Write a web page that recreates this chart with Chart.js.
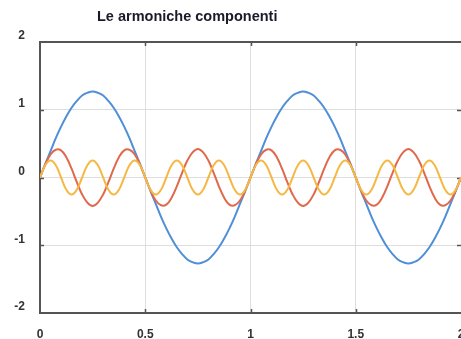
<!DOCTYPE html>
<html>
<head>
<meta charset="utf-8">
<script src="https://cdn.jsdelivr.net/npm/chart.js@4/dist/chart.umd.min.js"></script>
<style>
  html, body { margin: 0; padding: 0; background: #fff; }
  #wrap { width: 461px; height: 339px; }
</style>
</head>
<body>
<div id="wrap"><canvas id="harmonics"></canvas></div>
<script>
const title = "Le armoniche componenti";
const xTicks = [0, 0.5, 1, 1.5, 2];
const xTickLabels = ["0", "0.5", "1", "1.5", "2"];
const yTicks = [-2, -1, 0, 1, 2];

const xs = [
  0, 0.025, 0.05, 0.075, 0.1, 0.125, 0.15, 0.175, 0.2, 0.225,
  0.25, 0.275, 0.3, 0.325, 0.35, 0.375, 0.4, 0.425, 0.45, 0.475,
  0.5, 0.525, 0.55, 0.575, 0.6, 0.625, 0.65, 0.675, 0.7, 0.725,
  0.75, 0.775, 0.8, 0.825, 0.85, 0.875, 0.9, 0.925, 0.95, 0.975,
  1, 1.025, 1.05, 1.075, 1.1, 1.125, 1.15, 1.175, 1.2, 1.225,
  1.25, 1.275, 1.3, 1.325, 1.35, 1.375, 1.4, 1.425, 1.45, 1.475,
  1.5, 1.525, 1.55, 1.575, 1.6, 1.625, 1.65, 1.675, 1.7, 1.725,
  1.75, 1.775, 1.8, 1.825, 1.85, 1.875, 1.9, 1.925, 1.95, 1.975, 2
];

// fundamental (blue)
const first = [
  0, 0.20, 0.39, 0.58, 0.75, 0.90, 1.03, 1.13, 1.21, 1.25,
  1.27, 1.25, 1.21, 1.13, 1.03, 0.90, 0.75, 0.58, 0.39, 0.20,
  0, -0.20, -0.39, -0.58, -0.75, -0.90, -1.03, -1.13, -1.21, -1.25,
  -1.27, -1.25, -1.21, -1.13, -1.03, -0.90, -0.75, -0.58, -0.39, -0.20,
  0, 0.20, 0.39, 0.58, 0.75, 0.90, 1.03, 1.13, 1.21, 1.25,
  1.27, 1.25, 1.21, 1.13, 1.03, 0.90, 0.75, 0.58, 0.39, 0.20,
  0, -0.20, -0.39, -0.58, -0.75, -0.90, -1.03, -1.13, -1.21, -1.25,
  -1.27, -1.25, -1.21, -1.13, -1.03, -0.90, -0.75, -0.58, -0.39, -0.20, 0
];

// third harmonic (red)
const third = [
  0, 0.19, 0.34, 0.41, 0.40, 0.30, 0.13, -0.07, -0.25, -0.37,
  -0.42, -0.37, -0.25, -0.07, 0.13, 0.30, 0.40, 0.41, 0.34, 0.19,
  0, -0.19, -0.34, -0.41, -0.40, -0.30, -0.13, 0.07, 0.25, 0.37,
  0.42, 0.37, 0.25, 0.07, -0.13, -0.30, -0.40, -0.41, -0.34, -0.19,
  0, 0.19, 0.34, 0.41, 0.40, 0.30, 0.13, -0.07, -0.25, -0.37,
  -0.42, -0.37, -0.25, -0.07, 0.13, 0.30, 0.40, 0.41, 0.34, 0.19,
  0, -0.19, -0.34, -0.41, -0.40, -0.30, -0.13, 0.07, 0.25, 0.37,
  0.42, 0.37, 0.25, 0.07, -0.13, -0.30, -0.40, -0.41, -0.34, -0.19, 0
];

// fifth harmonic (yellow)
const fifth = [
  0, 0.18, 0.25, 0.18, 0, -0.18, -0.25, -0.18,
  0, 0.18, 0.25, 0.18, 0, -0.18, -0.25, -0.18,
  0, 0.18, 0.25, 0.18, 0, -0.18, -0.25, -0.18,
  0, 0.18, 0.25, 0.18, 0, -0.18, -0.25, -0.18,
  0, 0.18, 0.25, 0.18, 0, -0.18, -0.25, -0.18,
  0, 0.18, 0.25, 0.18, 0, -0.18, -0.25, -0.18,
  0, 0.18, 0.25, 0.18, 0, -0.18, -0.25, -0.18,
  0, 0.18, 0.25, 0.18, 0, -0.18, -0.25, -0.18,
  0, 0.18, 0.25, 0.18, 0, -0.18, -0.25, -0.18,
  0, 0.18, 0.25, 0.18, 0, -0.18, -0.25, -0.18, 0
];

const points = vals => xs.map((x, i) => ({ x: x, y: vals[i] }));

const FONT = "'Liberation Sans', Arial, sans-serif";
const AXIS = "#555";

// title drawn left of centre like the original
const titlePlugin = {
  id: "leftTitle",
  afterDraw(chart) {
    const ctx = chart.ctx;
    ctx.save();
    ctx.font = "bold 14.5px " + FONT;
    ctx.fillStyle = "#1a1a2a";
    ctx.textBaseline = "alphabetic";
    ctx.fillText(title, 97, 21);
    ctx.restore();
  }
};

// small inward tick marks on all four sides
const innerTicks = {
  id: "innerTicks",
  beforeDatasetsDraw(chart) {
    const { ctx, chartArea: a, scales } = chart;
    ctx.save();
    ctx.strokeStyle = AXIS;
    ctx.lineWidth = 1.5;
    ctx.beginPath();
    xTicks.slice(1, -1).forEach(v => {
      const px = Math.round(scales.x.getPixelForValue(v)) + 0.5;
      ctx.moveTo(px, a.top); ctx.lineTo(px, a.top + 4);
      ctx.moveTo(px, a.bottom); ctx.lineTo(px, a.bottom - 4);
    });
    yTicks.slice(1, -1).forEach(v => {
      const py = Math.round(scales.y.getPixelForValue(v)) + 0.5;
      ctx.moveTo(a.left, py); ctx.lineTo(a.left + 4, py);
      ctx.moveTo(a.right, py); ctx.lineTo(a.right - 4, py);
    });
    ctx.stroke();
    ctx.restore();
  }
};

new Chart(document.getElementById("harmonics"), {
  type: "line",
  data: {
    datasets: [
      { data: points(first), borderColor: "#4f8fd8", order: 3 },
      { data: points(third), borderColor: "#e0694c", order: 2 },
      { data: points(fifth), borderColor: "#f6b844", order: 1 }
    ]
  },
  options: {
    responsive: true,
    maintainAspectRatio: false,
    animation: false,
    layout: { padding: { top: 42, left: 0, right: 0, bottom: 0 } },
    elements: {
      line: { borderWidth: 2, tension: 0.4 },
      point: { radius: 0 }
    },
    plugins: {
      legend: { display: false },
      title: { display: false },
      tooltip: { enabled: false }
    },
    scales: {
      x: {
        type: "linear",
        min: 0,
        max: 2,
        afterBuildTicks: s => { s.ticks = xTicks.map(v => ({ value: v })); },
        afterFit: s => { s.height = 26; s.paddingLeft = 0; s.paddingRight = 0; },
        ticks: {
          padding: 14,
          color: "#333",
          font: { family: FONT, size: 12, weight: "bold" },
          callback: (v, i) => xTickLabels[i]
        },
        grid: {
          drawTicks: false,
          color: c => (c.tick && (c.tick.value === 0 || c.tick.value === 2)) ? "rgba(0,0,0,0)" : "#dedede",
          lineWidth: 1
        },
        border: { color: AXIS, width: 2 }
      },
      y: {
        min: -2,
        max: 2,
        afterBuildTicks: s => { s.ticks = yTicks.map(v => ({ value: v })); },
        afterFit: s => { s.width = 40; s.paddingTop = 0; s.paddingBottom = 0; },
        ticks: {
          padding: 15,
          labelOffset: -6,
          color: "#333",
          font: { family: FONT, size: 12, weight: "bold" }
        },
        grid: {
          drawTicks: false,
          color: c => (c.tick && c.tick.value === 2) ? AXIS : (c.tick && c.tick.value === -2 ? "rgba(0,0,0,0)" : "#dedede"),
          lineWidth: c => (c.tick && c.tick.value === 2) ? 2 : 1
        },
        border: { color: AXIS, width: 2 }
      }
    }
  },
  plugins: [innerTicks, titlePlugin]
});
</script>
</body>
</html>
